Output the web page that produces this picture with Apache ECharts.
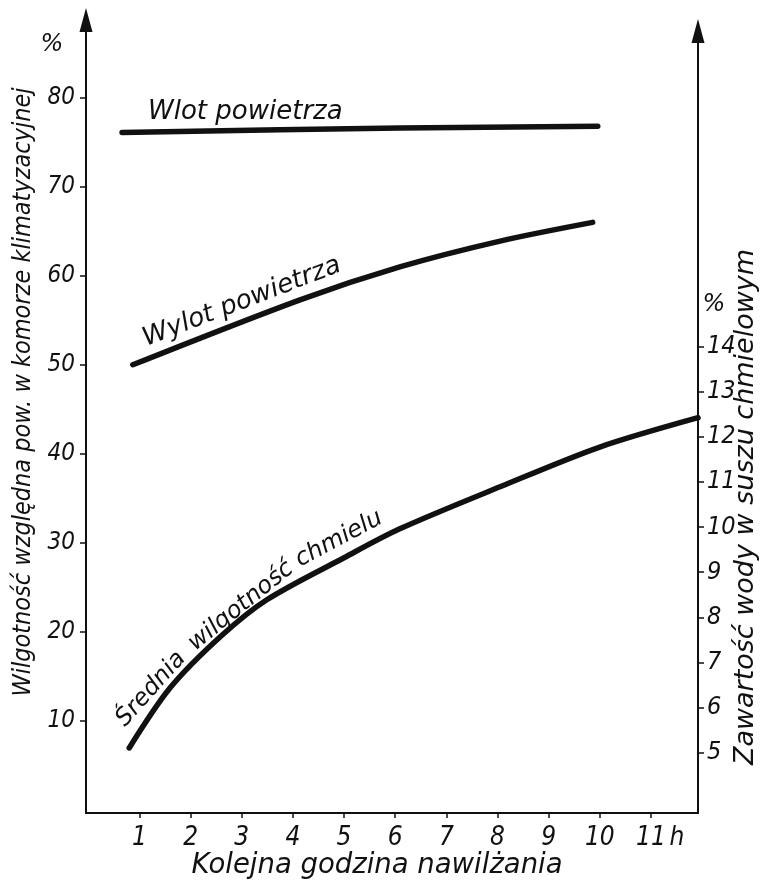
<!DOCTYPE html>
<html><head><meta charset="utf-8">
<script src="https://cdn.jsdelivr.net/npm/echarts@6/dist/echarts.min.js"></script>
<style>html,body{margin:0;padding:0;background:#fff}#c{width:784px;height:887px}</style>
</head><body><div id="c"></div>
<script>
// ---- data ----
const hourTicks = [1,2,3,4,5,6,7,8,9,10,11];
const leftTicks = [10,20,30,40,50,60,70,80];
const rightTicks = [5,6,7,8,9,10,11,12,13,14];
// [hour, % relative humidity]
const wlotPowietrza = [[0.66,76.1],[6.09,76.6],[9.96,76.8]];
const wylotPowietrza = [[0.87,50.0],[4.14,57.3],[6.09,61.0],[8.05,63.9],[9.86,66.0]];
// [hour, % water content in hops]
const sredniaWilgotnosc = [[0.80,5.11],[1.60,6.44],[2.58,7.57],[3.49,8.39],[5.0,9.32],[6.09,9.96],[8.05,10.89],[10.0,11.77],[11.92,12.42]];

const FONT = "'DejaVu Sans',sans-serif";
const FONT_C = "'DejaVu Sans Condensed','DejaVu Sans',sans-serif";
const INK = '#111';
const chart = echarts.init(document.getElementById('c'));
const lineStyle = {color: INK, width: 5.5, cap: 'round', join: 'round'};
function txt(text, x, y, size, rotDeg, align, fam) {
  return {type: 'text', x: x, y: y, rotation: (rotDeg || 0) * Math.PI / 180,
    style: {text: text, x: 0, y: 0, fill: INK, font: 'italic ' + size + 'px ' + (fam || FONT),
      textAlign: align || 'center', textVerticalAlign: 'middle'}};
}
const axisLineStyle = {show: true, onZero: false, symbol: ['none', 'triangle'], symbolSize: [13, 24], lineStyle: {color: INK, width: 2}};
chart.setOption({
  animation: false,
  backgroundColor: '#fff',
  grid: [
    {left: 86, right: 86, top: 20, bottom: 74},
    {left: 86, right: 86, top: 31, bottom: 74}
  ],
  xAxis: [
    {type: 'value', gridIndex: 0, min: -0.045, max: 11.92,
      axisLine: {onZero: false, lineStyle: {color: INK, width: 2}},
      axisTick: {customValues: hourTicks, length: 5, lineStyle: {color: INK, width: 1.5}},
      axisLabel: {customValues: hourTicks, margin: 12, color: INK, fontSize: 26, fontStyle: 'italic', fontFamily: FONT_C},
      splitLine: {show: false}},
    {type: 'value', gridIndex: 1, min: -0.045, max: 11.92, show: false,
      axisLine: {onZero: false}, splitLine: {show: false}}
  ],
  yAxis: [
    {type: 'value', gridIndex: 0, position: 'left', min: -0.365, max: 88.74,
      axisLine: axisLineStyle,
      axisTick: {show: true, customValues: leftTicks, length: 6, lineStyle: {color: INK, width: 1.5}},
      axisLabel: {customValues: leftTicks, margin: 11, color: INK, fontSize: 24, fontStyle: 'italic', fontFamily: FONT_C},
      splitLine: {show: false}},
    {type: 'value', gridIndex: 1, position: 'right', min: 3.67, max: 20.98,
      axisLine: axisLineStyle,
      axisTick: {show: true, customValues: rightTicks, length: 6, lineStyle: {color: INK, width: 1.5}},
      axisLabel: {customValues: rightTicks, margin: 9, color: INK, fontSize: 25, fontStyle: 'italic', fontFamily: FONT_C},
      splitLine: {show: false}}
  ],
  series: [
    {name: 'Wlot powietrza', type: 'line', xAxisIndex: 0, yAxisIndex: 0, data: wlotPowietrza,
      smooth: 0.3, showSymbol: false, lineStyle: lineStyle},
    {name: 'Wylot powietrza', type: 'line', xAxisIndex: 0, yAxisIndex: 0, data: wylotPowietrza,
      smooth: 0.3, showSymbol: false, lineStyle: lineStyle},
    {name: 'Średnia wilgotność chmielu', type: 'line', xAxisIndex: 1, yAxisIndex: 1, data: sredniaWilgotnosc,
      smooth: 0.3, showSymbol: false, lineStyle: lineStyle}
  ],
  graphic: [
    txt('Wilgotność względna pow. w komorze klimatyzacyjnej', 23, 392, 25, 90, 'center', FONT_C),
    txt('Zawartość wody w suszu chmielowym', 746, 507, 27, 90),
    txt('%', 52, 45, 24, 0),
    txt('%', 714, 305, 24, 0),
    txt('Kolejna godzina nawilżania', 377, 866, 27.5, 0),
    txt('h', 677, 838, 26, 0, 'center', FONT_C),
    txt('Wlot powietrza', 148, 112, 26, 0, 'left'),
    txt('Wylot powietrza', 242, 302, 26, 21),
    txt('Średnia', 151, 689, 24, 48),
    txt('wilgotność', 241, 606, 24, 39),
    txt('chmielu', 339, 539, 24, 28)
  ]
});
</script></body></html>
